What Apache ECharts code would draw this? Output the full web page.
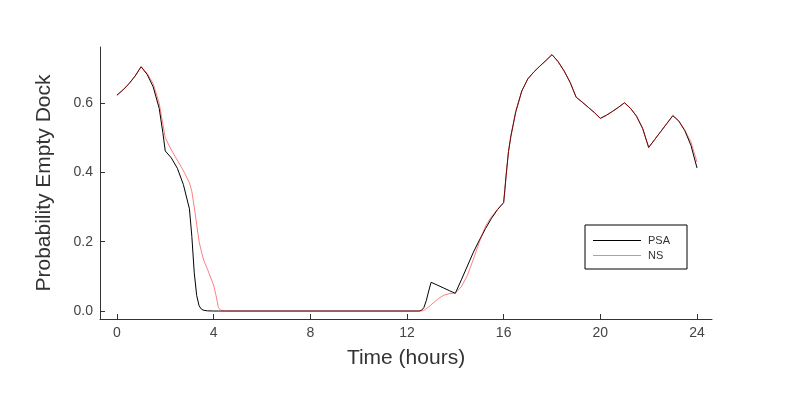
<!DOCTYPE html>
<html>
<head>
<meta charset="utf-8">
<script src="https://cdn.jsdelivr.net/npm/echarts@6/dist/echarts.min.js"></script>
<style>
  html, body { margin: 0; padding: 0; background: #fff; }
  #main { width: 800px; height: 400px; }
</style>
</head>
<body>
<div id="main"></div>
<script>
// time grid (hours), finer where the curves move fast
var hours = [0, 0.25, 0.5, 0.75, 1, 1.25, 1.5, 1.75, 1.9, 2, 2.25, 2.5, 2.75, 3, 3.1, 3.2, 3.3, 3.4, 3.5, 3.6, 3.75, 4, 4.1, 4.2, 4.3, 4.5,
  12.5, 12.6, 12.7, 12.8, 12.9, 13, 13.25, 13.5, 13.75, 14, 14.25, 14.5, 14.75, 15, 15.25, 15.5, 15.75, 16,
  16.05, 16.1, 16.2, 16.3, 16.4, 16.5, 16.75, 17, 17.25, 17.5, 17.75, 18, 18.25, 18.5, 18.75, 19,
  19.25, 19.5, 19.75, 20, 20.25, 20.5, 20.75, 21, 21.25, 21.5, 21.75, 22, 22.25, 22.5, 22.75, 23,
  23.25, 23.5, 23.75, 24]

var psa = [0.623, 0.638, 0.656, 0.678, 0.705, 0.683, 0.647, 0.585, 0.515, 0.462, 0.442, 0.412, 0.365, 0.295, 0.215, 0.11, 0.045, 0.015, 0.005, 0.002, 0.0005, 0, 0, 0, 0, 0,
  0, 0.002, 0.01, 0.03, 0.058, 0.083, 0.075, 0.067, 0.059, 0.051, 0.09, 0.13, 0.17, 0.205, 0.238, 0.268, 0.293, 0.313,
  0.35, 0.39, 0.46, 0.505, 0.54, 0.575, 0.635, 0.67, 0.69, 0.707, 0.723, 0.74, 0.72, 0.693, 0.66, 0.617,
  0.603, 0.588, 0.573, 0.556, 0.565, 0.576, 0.588, 0.601, 0.585, 0.562, 0.527, 0.472, 0.495, 0.518, 0.541, 0.564,
  0.548, 0.52, 0.478, 0.413]

var ns = [0.623, 0.638, 0.656, 0.678, 0.705, 0.686, 0.656, 0.6, 0.54, 0.5, 0.465, 0.435, 0.405, 0.37, 0.345, 0.3, 0.25, 0.2, 0.17, 0.145, 0.12, 0.075, 0.045, 0.01, 0.002, 0,
  0, 0, 0.002, 0.007, 0.012, 0.018, 0.033, 0.045, 0.05, 0.052, 0.07, 0.103, 0.15, 0.2, 0.245, 0.273, 0.294, 0.313,
  0.35, 0.39, 0.46, 0.505, 0.54, 0.575, 0.635, 0.67, 0.69, 0.707, 0.723, 0.74, 0.72, 0.693, 0.66, 0.617,
  0.603, 0.588, 0.573, 0.556, 0.565, 0.576, 0.588, 0.601, 0.585, 0.562, 0.527, 0.472, 0.495, 0.518, 0.541, 0.564,
  0.548, 0.522, 0.488, 0.43]

var xTicks = [0, 4, 8, 12, 16, 20, 24]
var yTicks = [0, 0.2, 0.4, 0.6]

function pairs (xs, ys) {
  return xs.map(function (x, i) { return [x, ys[i]] })
}

var font = 'Liberation Sans'
var axisColor = '#333'

var chart = echarts.init(document.getElementById('main'), null, {renderer: 'canvas'})
chart.setOption({
  animation: false,
  textStyle: {fontFamily: font},
  grid: {left: 100, right: 88, top: 47, bottom: 81, containLabel: false},
  legend: {
    left: 585,
    top: 225,
    orient: 'vertical',
    icon: 'rect',
    borderColor: '#000',
    borderWidth: 1,
    borderRadius: 0,
    padding: [10, 17, 8, 8],
    itemWidth: 48,
    itemHeight: 1,
    itemGap: 4,
    textStyle: {fontFamily: font, fontSize: 11, color: '#333', lineHeight: 11, padding: [0, 0, 0, 2]},
    data: ['PSA', 'NS']
  },
  xAxis: {
    type: 'value',
    min: -0.7,
    max: 24.62,
    name: 'Time (hours)',
    nameLocation: 'middle',
    nameGap: 29,
    nameTextStyle: {fontFamily: font, fontSize: 21, color: axisColor},
    axisLine: {show: true, onZero: false, lineStyle: {color: axisColor, width: 1}},
    axisTick: {show: true, inside: true, length: 5, customValues: xTicks, lineStyle: {color: axisColor}},
    axisLabel: {customValues: xTicks, margin: 7, fontSize: 14, color: '#444', fontFamily: font},
    splitLine: {show: false}
  },
  yAxis: {
    type: 'value',
    min: -0.023,
    max: 0.762,
    name: 'Probability Empty Dock',
    nameLocation: 'middle',
    nameGap: 45,
    nameTextStyle: {fontFamily: font, fontSize: 21, color: axisColor},
    axisLine: {show: true, onZero: false, lineStyle: {color: axisColor, width: 1}},
    axisTick: {show: true, inside: true, length: 5, customValues: yTicks, lineStyle: {color: axisColor}},
    axisLabel: {
      customValues: yTicks,
      margin: 7,
      fontSize: 14,
      color: '#444',
      fontFamily: font,
      formatter: function (v) { return v.toFixed(1) }
    },
    splitLine: {show: false}
  },
  series: [
    {
      name: 'PSA',
      type: 'line',
      data: pairs(hours, psa),
      showSymbol: false,
      symbol: 'none',
      lineStyle: {color: '#000', width: 1},
      itemStyle: {color: '#000'}
    },
    {
      name: 'NS',
      type: 'line',
      data: pairs(hours, ns),
      showSymbol: false,
      symbol: 'none',
      lineStyle: {color: '#ff0000', width: 1, opacity: 0.5},
      itemStyle: {color: '#ff0000', opacity: 0.5}
    }
  ]
})
</script>
</body>
</html>
